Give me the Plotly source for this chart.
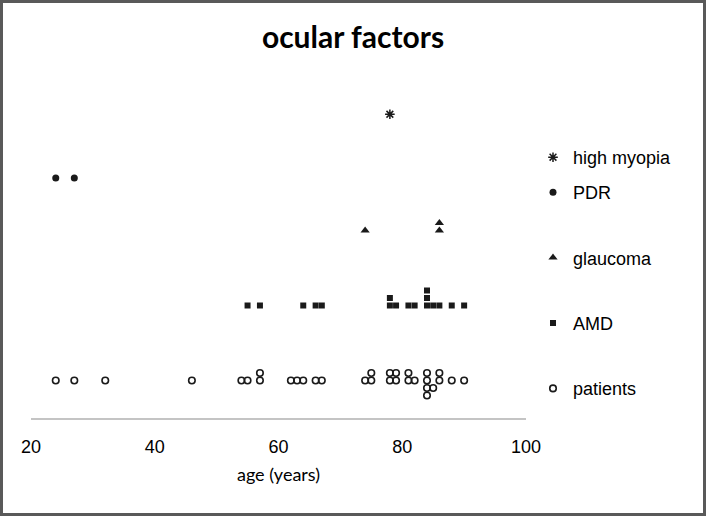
import plotly.graph_objects as go

# ---- data (age in years, y = row level with small stacking offsets)
patients_age = [24, 27, 32, 46, 54, 55, 57, 57, 62, 63, 64, 66, 67, 74, 75, 75,
                78, 78, 79, 79, 81, 81, 82, 84, 84, 84, 84, 85, 86, 86, 88, 90]
patients_y = [1.0, 1.0, 1.0, 1.0, 1.0, 1.0, 1.0, 1.1, 1.0, 1.0, 1.0, 1.0, 1.0, 1.0, 1.0, 1.1,
              1.0, 1.1, 1.0, 1.1, 1.0, 1.1, 1.0, 1.1, 1.0, 0.9, 0.8, 0.9, 1.0, 1.1, 1.0, 1.0]

amd_age = [55, 57, 64, 66, 67, 78, 78, 79, 81, 82, 84, 84, 84, 85, 86, 88, 90]
amd_y = [2.0, 2.0, 2.0, 2.0, 2.0, 2.0, 2.1, 2.0, 2.0, 2.0, 2.0, 2.1, 2.2, 2.0, 2.0, 2.0, 2.0]

glaucoma_age = [74, 86, 86]
glaucoma_y = [3.0, 3.0, 3.1]

pdr_age = [24, 27]
pdr_y = [3.7, 3.7]

myopia_age = [78]
myopia_y = [4.55]

x_ticks = [20, 40, 60, 80, 100]

# ---- layout geometry
W, H = 706, 516
L, R, T, B = 31, 180, 60, 98
PW, PH = W - L - R, H - T - B
Y_UNIT = 75.0
y_range = [0.5, 0.5 + PH / Y_UNIT]

INK = "#1a1a1a"

fig = go.Figure()

fig.add_trace(go.Scatter(x=pdr_age, y=pdr_y, mode="markers", name="PDR",
                         legendgroup="pdr",
                         marker=dict(symbol="circle", size=7, color=INK)))
fig.add_trace(go.Scatter(x=glaucoma_age, y=glaucoma_y, mode="markers", name="glaucoma",
                         legendgroup="gl",
                         marker=dict(symbol="triangle-up", size=8, color=INK)))
fig.add_trace(go.Scatter(x=amd_age, y=amd_y, mode="markers", name="AMD",
                         legendgroup="amd",
                         marker=dict(symbol="square", size=6, color=INK)))
fig.add_trace(go.Scatter(x=patients_age, y=patients_y, mode="markers", name="patients",
                         legendgroup="pt",
                         marker=dict(symbol="circle-open", size=6.5, color=INK,
                                     line=dict(width=1.6, color=INK))))
fig.add_trace(go.Scatter(x=myopia_age, y=myopia_y, mode="markers", name="high myopia",
                         legend="legend2",
                         marker=dict(symbol="asterisk-open", size=8, color=INK,
                                     line=dict(width=1.5, color=INK))))

def px_x(px):
    return (px - L) / PW

def px_y(py):
    return (H - B - py) / PH

fig.update_layout(
    width=W, height=H,
    margin=dict(l=L, r=R, t=T, b=B, autoexpand=False),
    paper_bgcolor="white", plot_bgcolor="white",
    title=dict(text="<b>ocular factors</b>", x=0.5, xanchor="center",
               y=1 - 37 / H, yanchor="middle", yref="container",
               font=dict(family="Lato", size=30, color="#000000")),
    xaxis=dict(range=[20, 100], tickvals=x_ticks, ticktext=[str(v) for v in x_ticks],
               showgrid=False, zeroline=False, showline=True, automargin=False,
               linecolor="#c4c4c4", linewidth=1.5,
               ticks="", ticklabelstandoff=12,
               tickfont=dict(family="Liberation Sans", size=18, color="#000000"),
               title=dict(text="age (years)", standoff=12,
                          font=dict(family="Lato", size=18, color="#000000"))),
    yaxis=dict(range=y_range, showgrid=False, zeroline=False, showline=False,
               showticklabels=False, ticks="", automargin=False),
    legend=dict(x=px_x(533), xanchor="left", y=px_y(174), yanchor="top",
                traceorder="grouped", tracegroupgap=39,
                font=dict(family="Liberation Sans", size=18, color="#000000"),
                bgcolor="rgba(0,0,0,0)"),
    legend2=dict(x=px_x(533), xanchor="left", y=px_y(139), yanchor="top",
                 font=dict(family="Liberation Sans", size=18, color="#000000"),
                 bgcolor="rgba(0,0,0,0)"),
    showlegend=True,
    shapes=[dict(type="rect", xref="paper", yref="paper",
                 x0=px_x(1.5), x1=px_x(W - 1.5), y0=px_y(H - 1.5), y1=px_y(1.5),
                 line=dict(color="#595959", width=3), fillcolor="rgba(0,0,0,0)",
                 layer="above")],
)

fig.write_html("out.html",
               config={"displayModeBar": False},
               post_script="document.body.style.margin='0px';document.body.style.padding='0px';")
